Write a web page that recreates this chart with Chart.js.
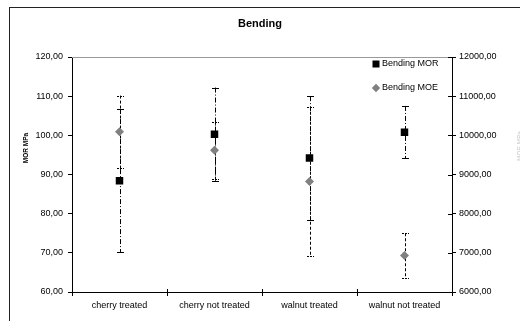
<!DOCTYPE html>
<html>
<head>
<meta charset="utf-8">
<script src="https://cdn.jsdelivr.net/npm/chart.js@4.4.1/dist/chart.umd.min.js"></script>
<style>
html,body{margin:0;padding:0;background:#fff;}
canvas{display:block;background:#fff;}
</style>
</head>
<body>
<canvas id="c" width="520" height="321"></canvas>
<script>
const categories = ['cherry treated', 'cherry not treated', 'walnut treated', 'walnut not treated'];
const morValues = [88.4, 100.3, 94.2, 100.8];
const morErrors = [18.3, 11.9, 15.8, 6.7];
const moeValues = [10090, 9620, 8820, 6930];
const moeErrors = [925, 730, 1910, 570];
const leftAxis = {min: 60, max: 120, step: 10};
const rightAxis = {min: 6000, max: 12000, step: 1000};
const seriesNames = ['Bending MOR', 'Bending MOE'];
const chartTitle = 'Bending';
const leftTitle = 'MOR MPa';
const rightTitle = 'MOE MPa';

const FONT = '"Liberation Sans", Arial, sans-serif';
const fmt = v => Number(v).toFixed(2).replace('.', ',');

const decorations = {
  id: 'decorations',
  beforeDraw(chart) {
    const ctx = chart.ctx;
    ctx.save();
    ctx.fillStyle = '#fff';
    ctx.fillRect(0, 0, chart.width, chart.height);
    ctx.strokeStyle = '#222';
    ctx.lineWidth = 1;
    ctx.strokeRect(9.5, 7.5, 540, 340);
    ctx.restore();
  },
  beforeDatasetsDraw(chart) {
    const ctx = chart.ctx;
    const a = chart.chartArea;
    ctx.save();
    // gray top border of plot area
    ctx.strokeStyle = '#999';
    ctx.lineWidth = 1;
    ctx.beginPath();
    ctx.moveTo(a.left, Math.round(a.top) + 0.5);
    ctx.lineTo(a.right, Math.round(a.top) + 0.5);
    ctx.stroke();
    // inner tick stubs for x axis and right axis
    ctx.strokeStyle = '#000';
    const xs = chart.scales.x;
    const n = categories.length;
    const bounds = [a.left];
    for (let i = 1; i < n; i++) bounds.push((xs.getPixelForValue(i - 1) + xs.getPixelForValue(i)) / 2);
    bounds.push(a.right);
    bounds.forEach(bx => {
      const px = Math.round(bx) + 0.5;
      ctx.beginPath();
      ctx.moveTo(px, a.bottom - 3);
      ctx.lineTo(px, a.bottom);
      ctx.stroke();
    });
    const ys1 = chart.scales.y1;
    for (let v = rightAxis.min; v <= rightAxis.max; v += rightAxis.step) {
      const py = Math.round(ys1.getPixelForValue(v)) + 0.5;
      ctx.beginPath();
      ctx.moveTo(a.right - 4, py);
      ctx.lineTo(a.right, py);
      ctx.stroke();
    }
    // error bars
    chart.data.datasets.forEach((ds, i) => {
      const meta = chart.getDatasetMeta(i);
      const ys = chart.scales[ds.yAxisID];
      meta.data.forEach((pt, j) => {
        const v = ds.data[j], e = ds.errors[j];
        const yT = ys.getPixelForValue(v + e);
        const yB = ys.getPixelForValue(v - e);
        const px = Math.round(pt.x) + 0.5;
        ctx.strokeStyle = '#000';
        ctx.lineWidth = 1;
        ctx.setLineDash(ds.errDash);
        ctx.beginPath();
        ctx.moveTo(px, yT);
        ctx.lineTo(px, yB);
        ctx.stroke();
        ctx.setLineDash(ds.capDash);
        [yT, yB].forEach(cy => {
          const yy = Math.round(cy) + 0.5;
          ctx.beginPath();
          ctx.moveTo(px - 3.5, yy);
          ctx.lineTo(px + 3.5, yy);
          ctx.stroke();
        });
      });
    });
    ctx.restore();
  },
  afterDraw(chart) {
    const ctx = chart.ctx;
    const a = chart.chartArea;
    ctx.save();
    // axis titles
    ctx.font = 'bold 6.5px ' + FONT;
    ctx.textAlign = 'center';
    ctx.textBaseline = 'middle';
    ctx.fillStyle = '#000';
    ctx.translate(26, 148);
    ctx.rotate(-Math.PI / 2);
    ctx.fillText(leftTitle, 0, 0);
    ctx.restore();
    ctx.save();
    ctx.font = 'bold 6.5px ' + FONT;
    ctx.textAlign = 'center';
    ctx.textBaseline = 'middle';
    ctx.fillStyle = '#d8d8d8';
    ctx.translate(520, 146);
    ctx.rotate(-Math.PI / 2);
    ctx.fillText(rightTitle, 0, 0);
    ctx.restore();
    // legend inside plot area
    ctx.save();
    ctx.font = '9px ' + FONT;
    ctx.textAlign = 'left';
    ctx.textBaseline = 'middle';
    const lx = 376, ly = [64, 88];
    // MOR marker
    ctx.fillStyle = '#000';
    ctx.fillRect(lx - 3.5, ly[0] - 3.5, 7, 7);
    ctx.fillText(seriesNames[0], lx + 6, ly[0]);
    // MOE marker
    ctx.fillStyle = '#808080';
    ctx.beginPath();
    ctx.moveTo(lx, ly[1] - 4.2);
    ctx.lineTo(lx + 4.2, ly[1]);
    ctx.lineTo(lx, ly[1] + 4.2);
    ctx.lineTo(lx - 4.2, ly[1]);
    ctx.closePath();
    ctx.fill();
    ctx.fillStyle = '#000';
    ctx.fillText(seriesNames[1], lx + 6, ly[1]);
    ctx.restore();
  }
};

const tickFont = {family: FONT, size: 9};

new Chart(document.getElementById('c'), {
  type: 'line',
  data: {
    labels: categories,
    datasets: [
      {
        label: seriesNames[0],
        data: morValues,
        errors: morErrors,
        errDash: [5, 2, 1, 2],
        capDash: [],
        yAxisID: 'y',
        showLine: false,
        pointStyle: 'rect',
        pointRadius: 5.3,
        pointHoverRadius: 5.3,
        backgroundColor: '#000',
        borderColor: '#000',
        borderWidth: 0
      },
      {
        label: seriesNames[1],
        data: moeValues,
        errors: moeErrors,
        errDash: [3, 2],
        capDash: [2, 1],
        yAxisID: 'y1',
        showLine: false,
        pointStyle: 'rectRot',
        pointRadius: 4.5,
        pointHoverRadius: 4.5,
        backgroundColor: '#808080',
        borderColor: '#808080',
        borderWidth: 0
      }
    ]
  },
  options: {
    responsive: false,
    animation: false,
    layout: {padding: 0},
    plugins: {
      legend: {display: false},
      tooltip: {enabled: false},
      title: {
        display: true,
        text: chartTitle,
        color: '#000',
        font: {family: FONT, size: 11, weight: 'bold'},
        padding: {top: 17, bottom: 26.8}
      }
    },
    scales: {
      x: {
        type: 'category',
        offset: true,
        grid: {display: true, drawOnChartArea: false, offset: true, color: '#000', tickLength: 4},
        border: {display: true, color: '#000', width: 1},
        ticks: {color: '#000', font: tickFont, padding: 4, maxRotation: 0, autoSkip: false},
        afterFit(s) { s.height = 29; }
      },
      y: {
        position: 'left',
        min: leftAxis.min,
        max: leftAxis.max,
        grid: {display: true, drawOnChartArea: false, color: '#000', tickLength: 4},
        border: {display: true, color: '#000', width: 1},
        ticks: {stepSize: leftAxis.step, color: '#000', font: tickFont, padding: 5, callback: v => fmt(v)},
        afterFit(s) { s.width = 72; }
      },
      y1: {
        position: 'right',
        min: rightAxis.min,
        max: rightAxis.max,
        grid: {display: true, drawOnChartArea: false, color: '#000', tickLength: 4},
        border: {display: true, color: '#000', width: 1},
        ticks: {stepSize: rightAxis.step, color: '#000', font: tickFont, padding: 3, callback: v => fmt(v)},
        afterFit(s) { s.width = 68; }
      }
    }
  },
  plugins: [decorations]
});
</script>
</body>
</html>
